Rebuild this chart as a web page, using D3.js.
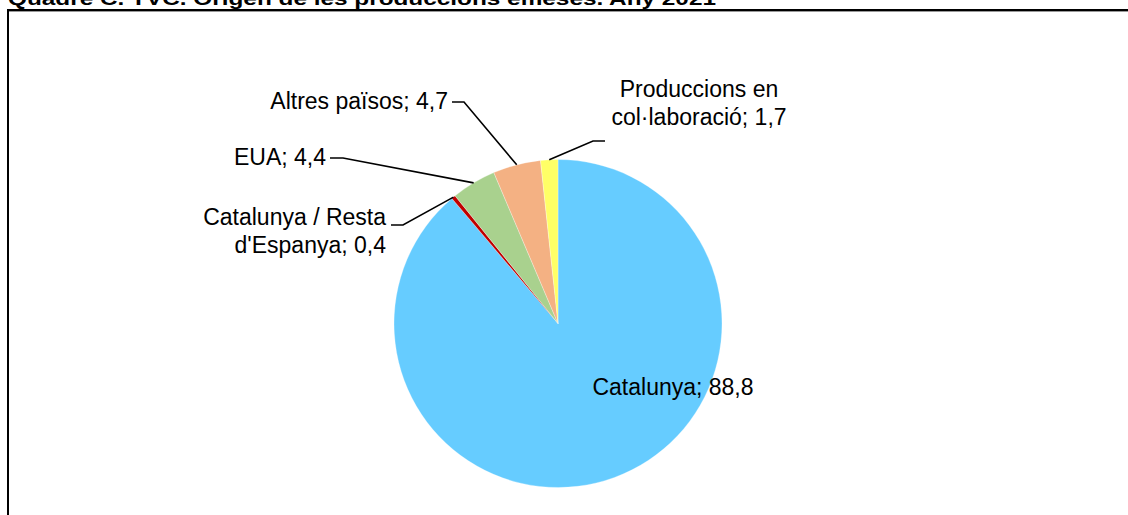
<!DOCTYPE html>
<html>
<head>
<meta charset="utf-8">
<script src="https://cdn.jsdelivr.net/npm/d3@7"></script>
<style>
  body { margin: 0; background: #fff; }
  text { font-family: "Liberation Sans", Arial, sans-serif; fill: #000; }
</style>
</head>
<body>
<div id="chart"></div>
<script>
let W = 1128; // width
let H = 515; // height

// Data
let categories = ['Catalunya', "Catalunya / Resta d'Espanya", 'EUA', 'Altres països', 'Produccions en col·laboració'];
let values = [88.8, 0.4, 4.4, 4.7, 1.7];
let colors = ['#66CCFF', '#C00000', '#A9D18E', '#F4B183', '#FFFF66'];
let labelLines = [
	['Catalunya; 88,8'],
	['Catalunya / Resta', "d'Espanya; 0,4"],
	['EUA; 4,4'],
	['Altres països; 4,7'],
	['Produccions en', 'col·laboració; 1,7']
];

// Label layout: text anchor point, alignment and elbow of the leader line
let labelPos = [
	{x: 673, y: 387, anchor: 'middle', elbow: null},
	{x: 386, y: 231, anchor: 'end', elbow: [[391, 225], [403, 225]]},
	{x: 326, y: 157, anchor: 'end', elbow: [[330, 158], [343, 158]]},
	{x: 448, y: 101, anchor: 'end', elbow: [[452, 102], [464, 102]]},
	{x: 699, y: 103, anchor: 'middle', elbow: [[605, 141], [593, 141]]}
];

let cx = 558, cy = 323.5, R = 164;

let svg = d3.select('#chart').append('svg')
		.attr('width', W).attr('height', H);

// Chart frame (runs off the right and bottom edges)
svg.append('rect')
		.attr('x', 8).attr('y', 10).attr('width', W + 20).attr('height', H + 20)
		.attr('fill', 'none').attr('stroke', '#000').attr('stroke-width', 2);
svg.append('line')
		.attr('x1', 9).attr('x2', W).attr('y1', 11.5).attr('y2', 11.5)
		.attr('stroke', '#999').attr('stroke-width', 1);

// Title, partly cut by the top edge as in the source
svg.append('text')
		.attr('x', 8).attr('y', 5)
		.attr('textLength', 708).attr('lengthAdjust', 'spacingAndGlyphs')
		.style('font-weight', 'bold').style('font-size', '19px')
		.text('Quadre C. TVC. Origen de les produccions emeses. Any 2021');

let pie = d3.pie().sort(null).value(d => d);
let arcs = pie(values);
let arc = d3.arc().innerRadius(0).outerRadius(R);

let g = svg.append('g').attr('transform', `translate(${cx}, ${cy})`);

g.selectAll('path').data(arcs).enter().append('path')
		.attr('d', arc)
		.attr('fill', (d, i) => colors[i])
		.attr('stroke', '#fff').attr('stroke-width', 0.5).attr('stroke-opacity', 0.6);

// Leader lines from the slice's outer edge to the label
arcs.forEach((d, i) => {
	let p = labelPos[i];
	if (!p.elbow) return;
	let mid = (d.startAngle + d.endAngle) / 2;
	let ex = cx + R * Math.sin(mid);
	let ey = cy - R * Math.cos(mid);
	let pts = [p.elbow[0], p.elbow[1], [ex, ey]];
	svg.append('path')
			.attr('d', d3.line()(pts))
			.attr('fill', 'none').attr('stroke', '#000').attr('stroke-width', 1.6);
});

// Labels
labelLines.forEach((lines, i) => {
	let p = labelPos[i];
	let t = svg.append('text')
			.attr('text-anchor', p.anchor)
			.style('font-size', '23px');
	let lh = 28;
	let y0 = p.y - (lines.length - 1) * lh / 2;
	lines.forEach((s, j) => {
		t.append('tspan').attr('x', p.x).attr('y', y0 + j * lh).attr('dy', '0.35em').text(s);
	});
});
</script>
</body>
</html>
